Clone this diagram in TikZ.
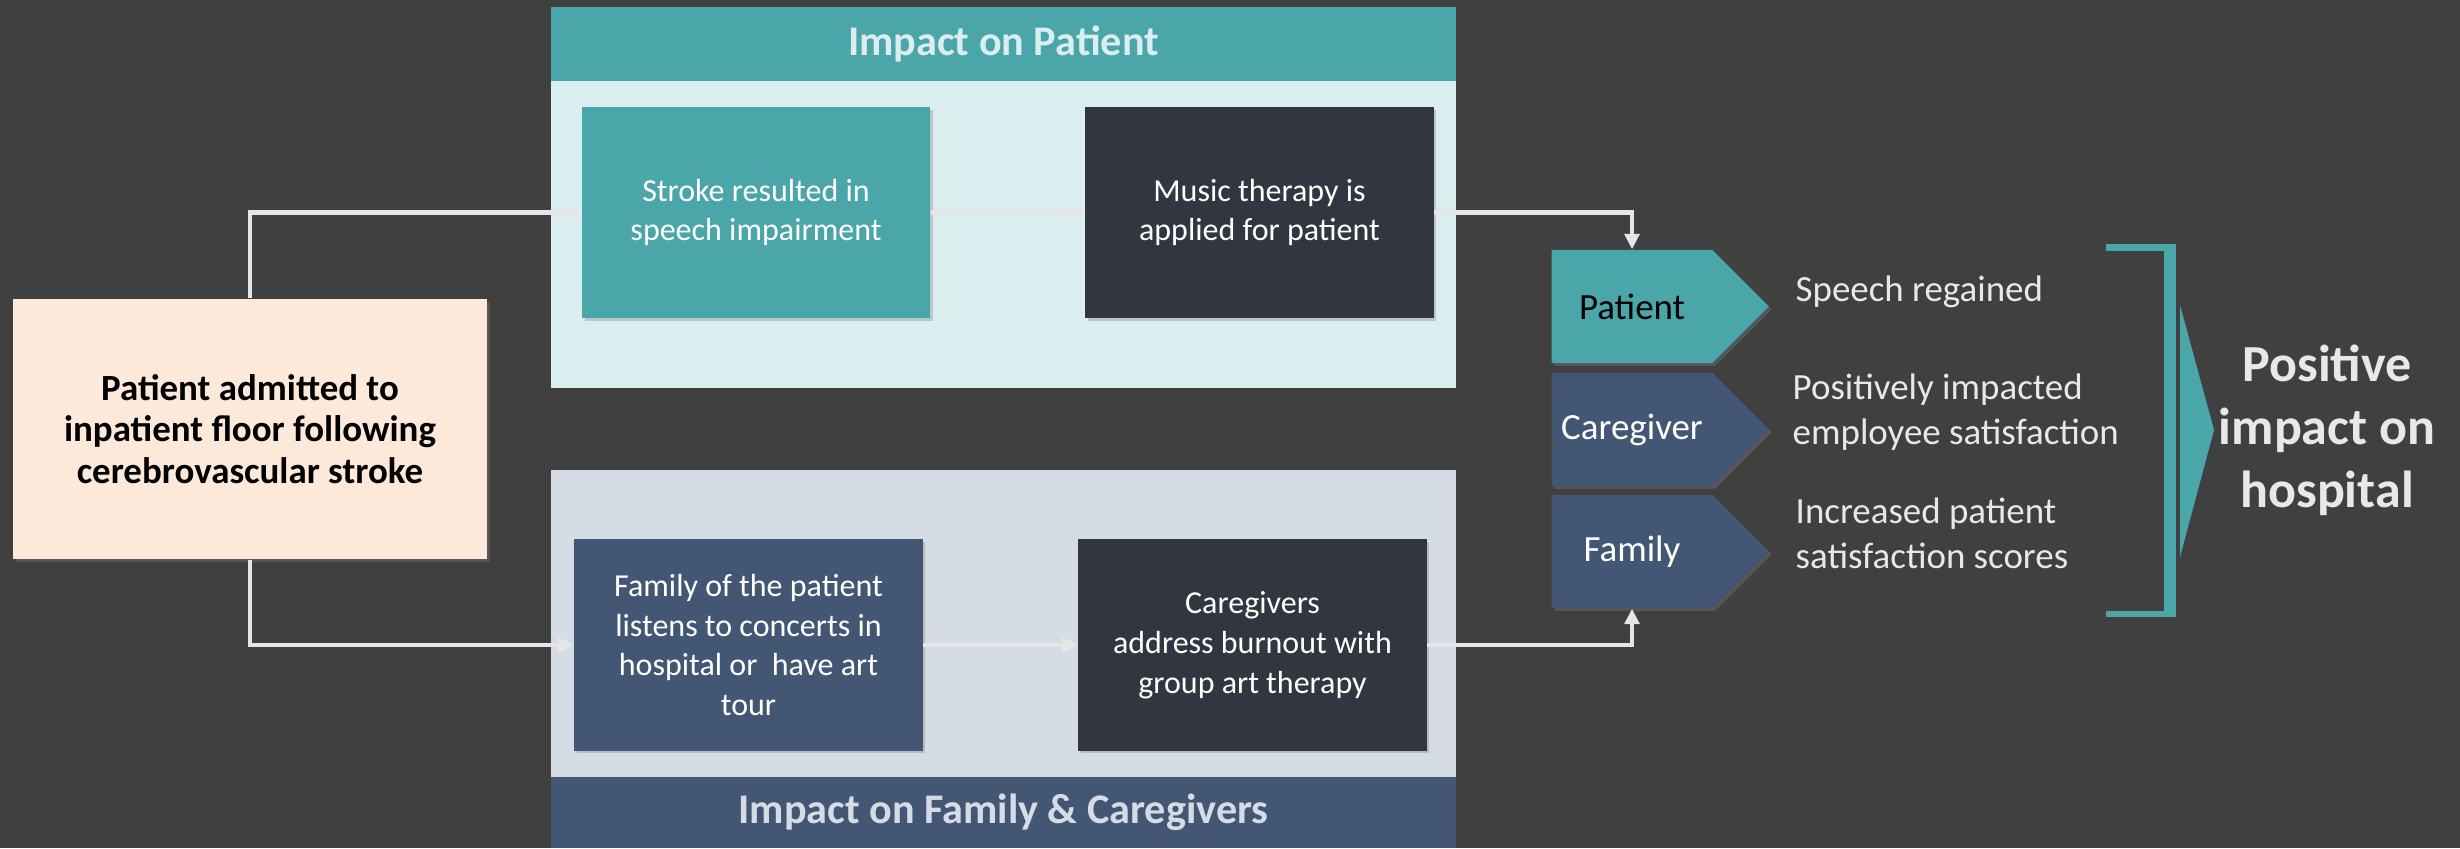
\documentclass[tikz,border=0pt]{standalone}
\usepackage{fontspec}
\setmainfont{Carlito}
\usetikzlibrary{arrows.meta, shapes.symbols, shadows, calc}

\definecolor{bgdark}{RGB}{64,64,64}
\definecolor{impteal}{RGB}{75,166,170}
\definecolor{impslate}{RGB}{67,87,117}
\definecolor{patpanel}{RGB}{218,237,239}
\definecolor{fampanel}{RGB}{214,220,229}
\definecolor{darkbox}{RGB}{50,54,64}
\definecolor{peach}{RGB}{253,233,217}
\definecolor{arrowgrey}{RGB}{230,230,230}
\definecolor{txtgrey}{RGB}{232,232,232}

\begin{document}
\begin{tikzpicture}[x=0.01cm, y=-0.01cm,
    shade box/.style={drop shadow={shadow xshift=0.8pt, shadow yshift=-0.8pt, opacity=0.35}},
    stepbox/.style={shade box, minimum width=3.48cm, minimum height=2.11cm, align=center,
        text=white, font=\fontsize{9.1}{11.3}\selectfont},
    head/.style={minimum width=9.05cm, minimum height=0.74cm, font=\fontsize{12}{14}\bfseries},
    chev/.style={signal, signal to=east, signal pointer angle=90, minimum width=2.17cm,
        minimum height=1.13cm, inner xsep=2pt, text=white, font=\fontsize{10.5}{12.8}\selectfont, shade box},
    result/.style={anchor=west, inner sep=0pt, align=left, text=txtgrey,
        font=\fontsize{10.5}{12.8}\selectfont},
    flow/.style={draw=arrowgrey, line width=1.2pt, -{Triangle[length=4.4pt, width=4.2pt]}}]

    % background and frame
    \fill[bgdark] (0,0) rectangle (2460,848);
    \useasboundingbox (0,0) rectangle (2460,848);

    % the two impact panels
    \fill[patpanel] (551,7) rectangle (1456,388);
    \node[head, fill=impteal, text=patpanel] (pathead) at (1003.5,44) {Impact on Patient};
    \fill[fampanel] (551,470) rectangle (1456,848);
    \node[head, fill=impslate, text=fampanel, minimum height=0.71cm] (famhead) at (1003.5,812.5) {Impact on Family \& Caregivers};

    % starting point
    \node[shade box, fill=peach, minimum width=4.74cm, minimum height=2.60cm, align=center,
        font=\fontsize{10.5}{11.9}\bfseries] (admit) at (250,429)
        {Patient admitted to\\inpatient floor following\\cerebrovascular stroke};

    % steps
    \node[stepbox, fill=impteal] (stroke) at (756,212.5) {Stroke resulted in\\speech impairment};
    \node[stepbox, fill=darkbox] (music) at (1259.5,212.5) {Music therapy is\\applied for patient};
    \node[stepbox, fill=impslate] (concert) at (748.5,645) {Family of the patient\\listens to concerts in\\hospital or~ have art\\tour};
    \node[stepbox, fill=darkbox] (arttherapy) at (1252.5,645) {Caregivers\\address burnout with\\group art therapy};

    % outcomes
    \node[chev, fill=impteal, text=black] (pat) at (1632,306.5) {Patient};
    \node[chev, fill=impslate] (care) at (1632,429.5) {Caregiver};
    \node[chev, fill=impslate] (fam) at (1632,551.5) {Family};
    \node[result] (speech) at (1795,292) {Speech regained};
    \node[result] (employee) at (1792,412) {Positively impacted\\employee satisfaction};
    \node[result] (scores) at (1795,533) {Increased patient\\satisfaction scores};

    % bracket and pointer
    \fill[impteal] (2106,244) rectangle (2176,251);
    \fill[impteal] (2164,244) rectangle (2176,617);
    \fill[impteal] (2106,611) rectangle (2176,617);
    \fill[impteal] (2180,305) -- (2214,430) -- (2180,557) -- cycle;
    \node[align=center, text=txtgrey, font=\fontsize{14.8}{17.9}\bfseries] (hospital) at (2327,430)
        {Positive\\impact on\\hospital};

    % connectors
    \draw[flow] (admit.north) |- (stroke.west);
    \draw[flow] (admit.south) |- (concert.west);
    \draw[flow] (stroke.east) -- (music.west);
    \draw[flow] (concert.east) -- (arttherapy.west);
    \draw[flow] (music.east) -| (pat.north);
    \draw[flow] (arttherapy.east) -| (fam.south);
\end{tikzpicture}
\end{document}
